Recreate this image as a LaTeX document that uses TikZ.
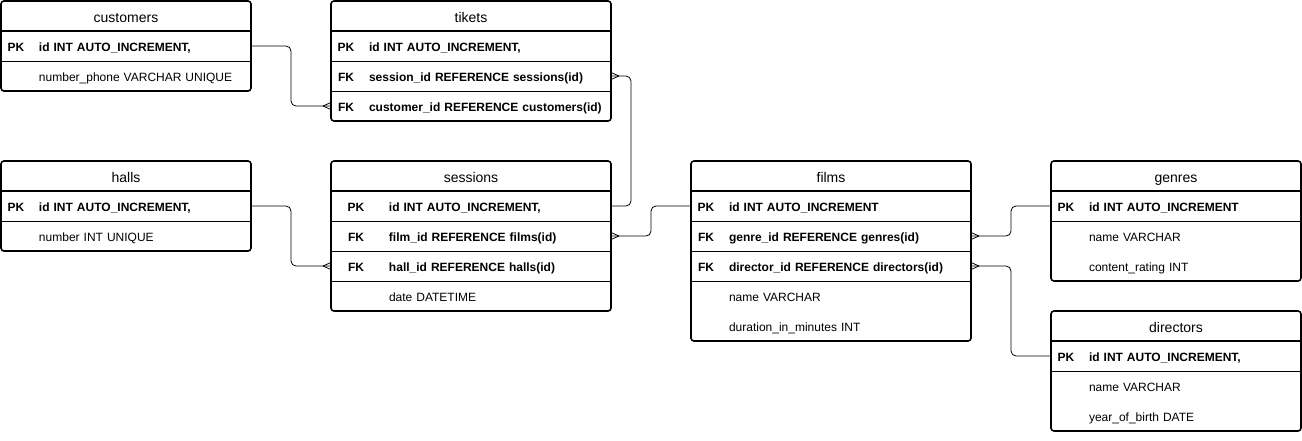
\documentclass[tikz,border=0pt]{standalone}
\usepackage{fontspec}
\setmainfont{Liberation Sans}
\usetikzlibrary{positioning,calc}

% key column + field text
\newcommand{\fld}[3][30pt]{\makebox[#1][c]{#2}\hspace{8pt}#3}
\newcommand{\bfld}[3][30pt]{\fld[#1]{\textbf{#2}}{\textbf{#3}}}
% crow's foot at #1, #2 = 1 (right side) or -1 (left side)
\newcommand{\many}[2]{%
  \draw[link] ($(#1)+(#2*8,0)$) -- ($(#1)+(0,3.5)$)
              ($(#1)+(#2*8,0)$) -- ($(#1)+(0,-3.5)$);}

\begin{document}
\begin{tikzpicture}[x=1pt,y=-1pt,
  ttl/.style={minimum width=#1, minimum height=30pt, inner sep=0pt, outer sep=0pt,
    font=\fontsize{14}{16}\selectfont, text height=12pt, text depth=0pt, anchor=north west},
  row/.style={minimum width=#1, text width=#1, minimum height=30pt, inner sep=0pt, outer sep=0pt,
    align=left, font=\fontsize{12}{14}\selectfont, text height=10.4pt, text depth=0pt},
  frame/.style={draw, line width=1.6pt, rounded corners=3pt},
  hsep/.style={line width=0.8pt},
  tsep/.style={line width=1.4pt},
  link/.style={line width=0.8pt, rounded corners=5pt}]
\useasboundingbox (0,0) rectangle (1302,440);

% customers
\node[ttl=250pt] (cus-ttl) at (1,1) {customers};
\node[row=250pt, below=0pt of cus-ttl] (cus-pk) {\bfld{PK}{id INT AUTO\_INCREMENT,}};
\node[row=250pt, below=0pt of cus-pk] (cus-num) {\fld{}{number\_phone VARCHAR UNIQUE}};
\draw[tsep] (cus-ttl.south west) -- (cus-ttl.south east);
\draw[hsep] (cus-pk.south west) -- (cus-pk.south east);
\draw[frame] (cus-ttl.north west) rectangle (cus-num.south east);

% tikets
\node[ttl=280pt] (tik-ttl) at (331,1) {tikets};
\node[row=280pt, below=0pt of tik-ttl] (tik-pk) {\bfld{PK}{id INT AUTO\_INCREMENT,}};
\node[row=280pt, below=0pt of tik-pk] (tik-ses) {\bfld{FK}{session\_id REFERENCE sessions(id)}};
\node[row=280pt, below=0pt of tik-ses] (tik-cus) {\bfld{FK}{customer\_id REFERENCE customers(id)}};
\draw[tsep] (tik-ttl.south west) -- (tik-ttl.south east);
\foreach \r in {tik-pk,tik-ses}
  \draw[hsep] (\r.south west) -- (\r.south east);
\draw[frame] (tik-ttl.north west) rectangle (tik-cus.south east);

% halls
\node[ttl=250pt] (hal-ttl) at (1,161) {halls};
\node[row=250pt, below=0pt of hal-ttl] (hal-pk) {\bfld{PK}{id INT AUTO\_INCREMENT,}};
\node[row=250pt, below=0pt of hal-pk] (hal-num) {\fld{}{number INT UNIQUE}};
\draw[tsep] (hal-ttl.south west) -- (hal-ttl.south east);
\draw[hsep] (hal-pk.south west) -- (hal-pk.south east);
\draw[frame] (hal-ttl.north west) rectangle (hal-num.south east);

% sessions
\node[ttl=280pt] (ses-ttl) at (331,161) {sessions};
\node[row=280pt, below=0pt of ses-ttl] (ses-pk) {\bfld[50pt]{PK}{id INT AUTO\_INCREMENT,}};
\node[row=280pt, below=0pt of ses-pk] (ses-fil) {\bfld[50pt]{FK}{film\_id REFERENCE films(id)}};
\node[row=280pt, below=0pt of ses-fil] (ses-hal) {\bfld[50pt]{FK}{hall\_id REFERENCE halls(id)}};
\node[row=280pt, below=0pt of ses-hal] (ses-date) {\fld[50pt]{}{date DATETIME}};
\draw[tsep] (ses-ttl.south west) -- (ses-ttl.south east);
\foreach \r in {ses-pk,ses-fil,ses-hal}
  \draw[hsep] (\r.south west) -- (\r.south east);
\draw[frame] (ses-ttl.north west) rectangle (ses-date.south east);

% films
\node[ttl=280pt] (fil-ttl) at (691,161) {films};
\node[row=280pt, below=0pt of fil-ttl] (fil-pk) {\bfld{PK}{id INT AUTO\_INCREMENT}};
\node[row=280pt, below=0pt of fil-pk] (fil-gen) {\bfld{FK}{genre\_id REFERENCE genres(id)}};
\node[row=280pt, below=0pt of fil-gen] (fil-dir) {\bfld{FK}{director\_id REFERENCE directors(id)}};
\node[row=280pt, below=0pt of fil-dir] (fil-name) {\fld{}{name VARCHAR}};
\node[row=280pt, below=0pt of fil-name] (fil-dur) {\fld{}{duration\_in\_minutes INT}};
\draw[tsep] (fil-ttl.south west) -- (fil-ttl.south east);
\foreach \r in {fil-pk,fil-gen,fil-dir}
  \draw[hsep] (\r.south west) -- (\r.south east);
\draw[frame] (fil-ttl.north west) rectangle (fil-dur.south east);

% genres
\node[ttl=250pt] (gen-ttl) at (1051,161) {genres};
\node[row=250pt, below=0pt of gen-ttl] (gen-pk) {\bfld{PK}{id INT AUTO\_INCREMENT}};
\node[row=250pt, below=0pt of gen-pk] (gen-name) {\fld{}{name VARCHAR}};
\node[row=250pt, below=0pt of gen-name] (gen-rat) {\fld{}{content\_rating INT}};
\draw[tsep] (gen-ttl.south west) -- (gen-ttl.south east);
\draw[hsep] (gen-pk.south west) -- (gen-pk.south east);
\draw[frame] (gen-ttl.north west) rectangle (gen-rat.south east);

% directors
\node[ttl=250pt] (dir-ttl) at (1051,311) {directors};
\node[row=250pt, below=0pt of dir-ttl] (dir-pk) {\bfld{PK}{id INT AUTO\_INCREMENT,}};
\node[row=250pt, below=0pt of dir-pk] (dir-name) {\fld{}{name VARCHAR}};
\node[row=250pt, below=0pt of dir-name] (dir-year) {\fld{}{year\_of\_birth DATE}};
\draw[tsep] (dir-ttl.south west) -- (dir-ttl.south east);
\draw[hsep] (dir-pk.south west) -- (dir-pk.south east);
\draw[frame] (dir-ttl.north west) rectangle (dir-year.south east);

% relations
\draw[link] (cus-pk.east) -- ++(40,0) |- (tik-cus.west);
\many{tik-cus.west}{-1}
\draw[link] (ses-pk.east) -- ++(20,0) |- (tik-ses.east);
\many{tik-ses.east}{1}
\draw[link] (hal-pk.east) -- ++(40,0) |- (ses-hal.west);
\many{ses-hal.west}{-1}
\draw[link] (fil-pk.west) -- ++(-40,0) |- (ses-fil.east);
\many{ses-fil.east}{1}
\draw[link] (gen-pk.west) -- ++(-40,0) |- (fil-gen.east);
\many{fil-gen.east}{1}
\draw[link] (dir-pk.west) -- ++(-40,0) |- (fil-dir.east);
\many{fil-dir.east}{1}
\end{tikzpicture}
\end{document}
